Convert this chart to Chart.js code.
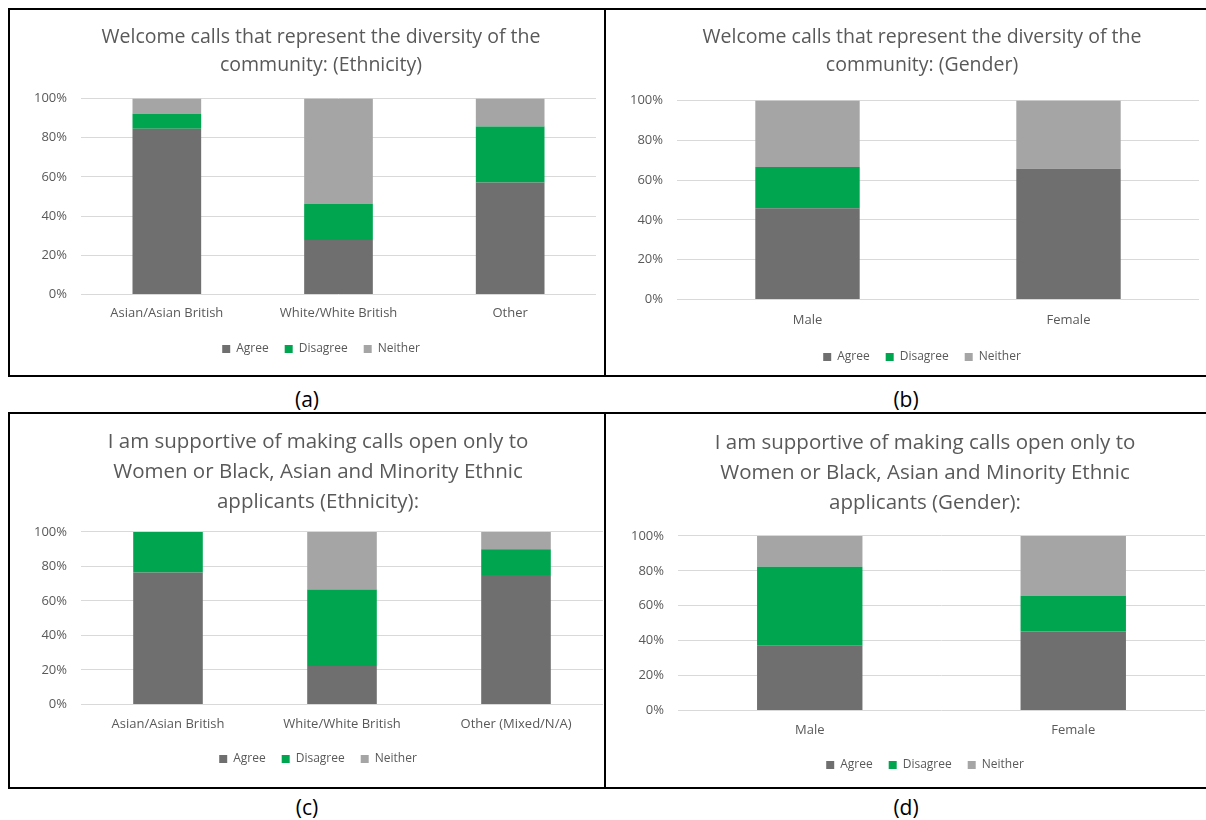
<!DOCTYPE html>
<html>
<head>
<meta charset="utf-8">
<script src="https://cdn.jsdelivr.net/npm/chart.js@4.4.1/dist/chart.umd.min.js"></script>
<style>
  html, body { margin: 0; padding: 0; background: #fff; }
  body { width: 1206px; height: 820px; position: relative; overflow: hidden; font-family: "Open Sans", sans-serif; }
  .rule { position: absolute; background: #000; }
  .cell { position: absolute; }
  .cap { position: absolute; width: 596px; text-align: center; font-size: 21px; color: #000; line-height: 1; }
</style>
</head>
<body>
<!-- table rules -->
<div class="rule" style="left:8px;top:8px;width:1198px;height:2px"></div>
<div class="rule" style="left:8px;top:375px;width:1198px;height:2px"></div>
<div class="rule" style="left:8px;top:412px;width:1198px;height:2px"></div>
<div class="rule" style="left:8px;top:787px;width:1198px;height:2px"></div>
<div class="rule" style="left:8px;top:8px;width:2px;height:369px"></div>
<div class="rule" style="left:604px;top:8px;width:2px;height:369px"></div>
<div class="rule" style="left:8px;top:412px;width:2px;height:377px"></div>
<div class="rule" style="left:604px;top:412px;width:2px;height:377px"></div>

<div class="cell" style="left:10px;top:10px;width:594px;height:365px"><canvas id="chartA"></canvas></div>
<div class="cell" style="left:606px;top:10px;width:600px;height:365px"><canvas id="chartB"></canvas></div>
<div class="cell" style="left:10px;top:414px;width:594px;height:373px"><canvas id="chartC"></canvas></div>
<div class="cell" style="left:606px;top:414px;width:600px;height:373px"><canvas id="chartD"></canvas></div>

<div class="cap" style="left:9px;top:389px">(a)</div>
<div class="cap" style="left:608px;top:389px">(b)</div>
<div class="cap" style="left:9px;top:797px">(c)</div>
<div class="cap" style="left:608px;top:797px">(d)</div>

<script>
// Shares of responses (%) per group: Agree / Disagree / Neither
const seriesNames = ['Agree', 'Disagree', 'Neither'];
const seriesColors = ['#6f6f6f', '#00a550', '#a5a5a5'];

const titleA = ['Welcome calls that represent the diversity of the', 'community: (Ethnicity)'];
const groupsA = ['Asian/Asian British', 'White/White British', 'Other'];
const agreeA = [84.6, 27.8, 57.1];
const disagreeA = [7.7, 18.5, 28.6];
const neitherA = [7.7, 53.7, 14.3];

const titleB = ['Welcome calls that represent the diversity of the', 'community: (Gender)'];
const groupsB = ['Male', 'Female'];
const agreeB = [45.8, 65.7];
const disagreeB = [20.8, 0];
const neitherB = [33.4, 34.3];

const titleC = ['I am supportive of making calls open only to', 'Women or Black, Asian and Minority Ethnic', 'applicants (Ethnicity):'];
const groupsC = ['Asian/Asian British', 'White/White British', 'Other (Mixed/N/A)'];
const agreeC = [76.5, 22.2, 75.0];
const disagreeC = [23.5, 44.4, 15.0];
const neitherC = [0, 33.4, 10.0];

const titleD = ['I am supportive of making calls open only to', 'Women or Black, Asian and Minority Ethnic', 'applicants (Gender):'];
const groupsD = ['Male', 'Female'];
const agreeD = [37.3, 45.2];
const disagreeD = [45.0, 20.5];
const neitherD = [17.7, 34.3];

const yTicks = [0, 20, 40, 60, 80, 100];

const TEXT = '#595959';
const GRID = '#d9d9d9';
const FONT = '"Open Sans", sans-serif';

// Centres the title and legend on a chosen x (canvas px) and nudges the legend vertically.
const centerBoxes = {
  id: 'centerBoxes',
  afterLayout(chart, args, o) {
    [chart.titleBlock, chart.legend].forEach((box) => {
      if (!box) return;
      const dx = o.x - (box.left + box.right) / 2;
      box.left += dx;
      box.right += dx;
    });
    if (chart.legend) {
      chart.legend.top += o.legendDy;
      chart.legend.bottom += o.legendDy;
    }
  }
};

function makeChart(id, title, groups, agree, disagree, neither, opts) {
  const values = [agree, disagree, neither];
  return new Chart(document.getElementById(id), {
    type: 'bar',
    data: {
      labels: groups,
      datasets: seriesNames.map((name, i) => ({
        label: name,
        data: values[i],
        backgroundColor: seriesColors[i],
        borderWidth: 0,
        barPercentage: 0.4,
        categoryPercentage: 1
      }))
    },
    plugins: [centerBoxes],
    options: {
      responsive: true,
      maintainAspectRatio: false,
      animation: false,
      layout: { padding: { left: 0, right: opts.right, top: 0, bottom: opts.bottom } },
      plugins: {
        tooltip: { enabled: false },
        centerBoxes: { x: opts.centerX, legendDy: opts.legendDy },
        title: {
          display: true,
          text: title,
          color: TEXT,
          font: { family: FONT, size: opts.titleSize, weight: 'normal', lineHeight: opts.titleLH },
          padding: { top: opts.titleTop, bottom: opts.titleBottom }
        },
        legend: {
          position: 'bottom',
          labels: {
            color: TEXT,
            font: { family: FONT, size: 12 },
            boxWidth: 8,
            boxHeight: 8,
            padding: 16
          }
        }
      },
      scales: {
        x: {
          stacked: true,
          grid: { display: false },
          border: { display: false },
          ticks: { color: TEXT, font: { family: FONT, size: 13 }, padding: opts.xPad, maxRotation: 0 }
        },
        y: {
          stacked: true,
          min: 0,
          max: 100,
          afterFit: (scale) => { scale.width = opts.yWidth; },
          afterBuildTicks: (scale) => { scale.ticks = yTicks.map(v => ({ value: v })); },
          grid: { color: GRID, lineWidth: 1, drawTicks: false },
          border: { display: false },
          ticks: {
            color: TEXT,
            font: { family: FONT, size: 13 },
            padding: 14,
            callback: (v) => v + '%'
          }
        }
      }
    }
  });
}

makeChart('chartA', titleA, groupsA, agreeA, disagreeA, neitherA,
  { yWidth: 71, right: 8, bottom: 13, centerX: 311, legendDy: 3, titleSize: 19.5, titleLH: 1.4, titleTop: 14, titleBottom: 20, xPad: 3 });
makeChart('chartB', titleB, groupsB, agreeB, disagreeB, neitherB,
  { yWidth: 71, right: 7, bottom: 4, centerX: 316, legendDy: 2, titleSize: 19.5, titleLH: 1.4, titleTop: 14, titleBottom: 22, xPad: 5 });
makeChart('chartC', titleC, groupsC, agreeC, disagreeC, neitherC,
  { yWidth: 71, right: 1, bottom: 13, centerX: 308, legendDy: 1, titleSize: 20.5, titleLH: 1.463, titleTop: 13, titleBottom: 15, xPad: 4 });
makeChart('chartD', titleD, groupsD, agreeD, disagreeD, neitherD,
  { yWidth: 72, right: 1, bottom: 7, centerX: 319, legendDy: 1, titleSize: 20.5, titleLH: 1.463, titleTop: 14, titleBottom: 18, xPad: 4 });
</script>
</body>
</html>
